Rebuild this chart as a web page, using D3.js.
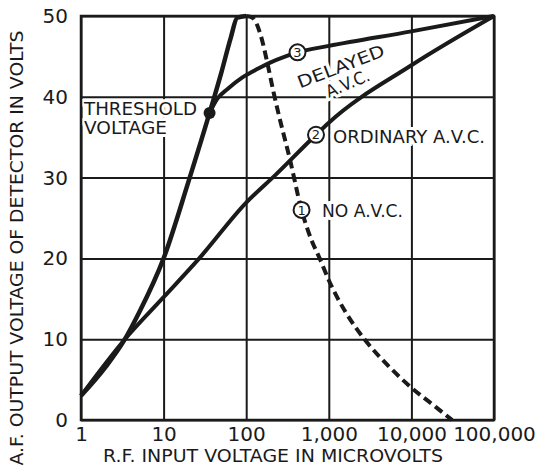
<!DOCTYPE html>
<html>
<head>
<meta charset="utf-8">
<script src="https://cdn.jsdelivr.net/npm/d3@7"></script>
<style>
  body { margin: 0; background: #fff; }
  svg text { font-family: "DejaVu Sans", sans-serif; fill: #1a1a1a; }
</style>
</head>
<body>
<svg id="chart" width="554" height="471"></svg>
<script>
// tick values and labels
const xTicks = [1, 10, 100, 1000, 10000, 100000];
const xLabels = ["1", "10", "100", "1,000", "10,000", "100,000"];
const yTicks = [0, 10, 20, 30, 40, 50];

// curve 1 - no a.v.c. (solid part up to the peak, then dashed)
const noAvcRise = [[1, 3], [2, 6.6], [3.4, 10], [5, 13.2], [10, 20], [20, 29.5], [36, 38], [50, 43], [65, 47.3], [78, 49.8], [100, 50]];
const noAvcFall = [[100, 50], [119, 49.8], [150, 47.6], [182, 44], [215, 40.5], [253, 37.4], [334, 32.5], [468, 26], [615, 22.3], [776, 20], [1000, 17.3], [1630, 13.2], [2750, 9.9], [5380, 6.6], [10000, 4], [19800, 1.6], [31000, 0]];
// curve 2 - ordinary a.v.c.
const ordinaryAvc = [[1, 3], [3.4, 10], [10, 15.2], [27, 20], [100, 26.9], [230, 30.4], [700, 35.3], [1000, 36.8], [10000, 43.9], [100000, 50]];
// curve 3 - delayed a.v.c. (leaves curve 1 at the threshold)
const delayedAvc = [[36, 38], [45, 39.8], [60, 41], [90, 42.4], [140, 43.5], [192, 44.2], [300, 45], [418, 45.5], [1000, 46.3], [10000, 48.1], [100000, 50]];

const threshold = [36, 38];
const markers = [
  { n: "1", at: [468, 26] },
  { n: "2", at: [700, 35.3] },
  { n: "3", at: [418, 45.5] }
];

const svg = d3.select("#chart");
const pLeft = 81, pRight = 494, pTop = 16, pBottom = 420;
const ink = "#1a1a1a";

const x = d3.scaleLog().domain([1, 100000]).range([pLeft, pRight]);
const y = d3.scaleLinear().domain([0, 50]).range([pBottom, pTop]);

// grid
svg.append("g")
  .attr("transform", `translate(0,${pBottom})`)
  .call(d3.axisBottom(x).tickValues(xTicks).tickSize(-(pBottom - pTop)).tickFormat(""))
  .call(g => g.select(".domain").remove())
  .selectAll("line").attr("stroke", ink).attr("stroke-width", 2);

svg.append("g")
  .attr("transform", `translate(${pLeft},0)`)
  .call(d3.axisLeft(y).tickValues(yTicks).tickSize(-(pRight - pLeft)).tickFormat(""))
  .call(g => g.select(".domain").remove())
  .selectAll("line").attr("stroke", ink).attr("stroke-width", 2);

// tick labels
svg.append("g")
  .attr("transform", `translate(0,${pBottom})`)
  .call(d3.axisBottom(x).tickValues(xTicks).tickSize(0).tickPadding(7)
    .tickFormat((d, i) => xLabels[i]))
  .call(g => g.select(".domain").remove())
  .selectAll("text").attr("font-size", 20).attr("font-family", "DejaVu Sans").attr("fill", ink);

svg.append("g")
  .attr("transform", `translate(${pLeft},0)`)
  .call(d3.axisLeft(y).tickValues(yTicks).tickSize(0).tickPadding(13))
  .call(g => g.select(".domain").remove())
  .selectAll("text").attr("font-size", 20).attr("font-family", "DejaVu Sans").attr("fill", ink);

// axis titles
svg.append("text")
  .attr("x", 273).attr("y", 462)
  .attr("text-anchor", "middle")
  .attr("font-size", 17)
  .attr("textLength", 340).attr("lengthAdjust", "spacingAndGlyphs")
  .text("R.F. INPUT VOLTAGE  IN MICROVOLTS");

svg.append("text")
  .attr("transform", "translate(23,248) rotate(-90)")
  .attr("text-anchor", "middle")
  .attr("font-size", 17)
  .attr("textLength", 435).attr("lengthAdjust", "spacingAndGlyphs")
  .text("A.F. OUTPUT VOLTAGE OF DETECTOR IN VOLTS");

// in-plot labels with a white halo that breaks the grid
function label(txt, xp, yp, opts = {}) {
  const t = svg.append("text")
    .attr("x", xp).attr("y", yp)
    .attr("font-size", opts.size || 17)
    .attr("text-anchor", opts.anchor || "start")
    .attr("stroke", "#fff").attr("stroke-width", 6)
    .attr("paint-order", "stroke")
    .text(txt);
  if (opts.rotate) t.attr("transform", `rotate(${opts.rotate},${xp},${yp})`);
  if (opts.len) t.attr("textLength", opts.len).attr("lengthAdjust", "spacingAndGlyphs");
  return t;
}
label("THRESHOLD", 84, 115, { len: 113 });
label("VOLTAGE", 84, 134, { len: 83 });
label("DELAYED", 343, 72, { anchor: "middle", rotate: -21, len: 92 });
label("A.V.C.", 350, 89, { anchor: "middle", rotate: -23, len: 46 });
label("ORDINARY A.V.C.", 333, 143, { len: 152 });
label("NO A.V.C.", 322, 217, { len: 81 });

// frame on top of the label halos
svg.append("rect")
  .attr("x", pLeft).attr("y", pTop)
  .attr("width", pRight - pLeft).attr("height", pBottom - pTop)
  .attr("fill", "none").attr("stroke", ink).attr("stroke-width", 2.5);

// curves
const line = d3.line()
  .x(d => x(d[0]))
  .y(d => y(d[1]))
  .curve(d3.curveMonotoneX);

svg.append("path").datum(ordinaryAvc)
  .attr("d", line).attr("fill", "none")
  .attr("stroke", ink).attr("stroke-width", 4);

svg.append("path").datum(delayedAvc)
  .attr("d", line).attr("fill", "none")
  .attr("stroke", ink).attr("stroke-width", 4);

svg.append("path").datum(noAvcRise)
  .attr("d", line).attr("fill", "none")
  .attr("stroke", ink).attr("stroke-width", 4.5);

svg.append("path").datum(noAvcFall)
  .attr("d", line).attr("fill", "none")
  .attr("stroke", ink).attr("stroke-width", 4)
  .attr("stroke-dasharray", "9,5");

// threshold dot
svg.append("circle")
  .attr("cx", x(threshold[0])).attr("cy", y(threshold[1]))
  .attr("r", 6).attr("fill", ink);

// numbered circles
const m = svg.selectAll("g.marker").data(markers).enter().append("g")
  .attr("class", "marker")
  .attr("transform", d => `translate(${x(d.at[0])},${y(d.at[1])})`);
m.append("circle")
  .attr("r", 8).attr("fill", "#fff")
  .attr("stroke", ink).attr("stroke-width", 2);
m.append("text")
  .attr("text-anchor", "middle").attr("dy", "0.36em")
  .attr("font-size", 13)
  .text(d => d.n);
</script>
</body>
</html>
